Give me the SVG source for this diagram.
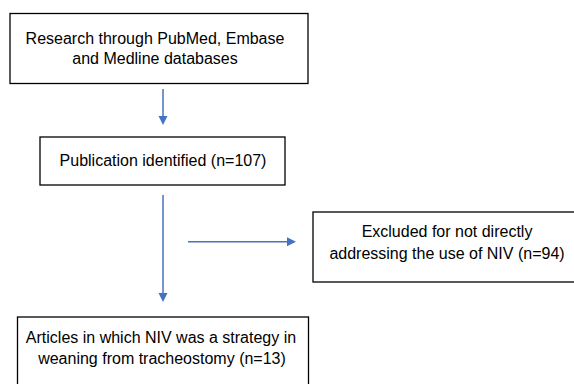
<svg xmlns="http://www.w3.org/2000/svg" width="574" height="384" viewBox="0 0 574 384">
<style>
.box{fill:#fff;stroke:#000;stroke-width:1.3}
.t{font-family:"Liberation Sans",Arial,Helvetica,sans-serif;font-size:16px;fill:#000;text-anchor:middle}
.c{stroke:#4472C4;stroke-width:1.5;fill:none}
</style>
<defs>
<marker id="ah" viewBox="0 0 10 10" refX="10" refY="5" markerWidth="6" markerHeight="6" markerUnits="userSpaceOnUse" orient="auto">
<path d="M0,0 L10,5 L0,10 z" fill="#4472C4"/>
</marker>
</defs>
<rect width="574" height="384" fill="#fff"/>
<g id="n1">
<rect class="box" x="10" y="13.5" width="298" height="70"/>
<text class="t" x="155" y="44">Research through PubMed, Embase</text>
<text class="t" x="155" y="63.5">and Medline databases</text>
</g>
<g id="n2">
<rect class="box" x="40" y="137" width="245" height="48"/>
<text class="t" x="163" y="166">Publication identified (n=107)</text>
</g>
<g id="n3">
<rect class="box" x="313" y="212" width="268" height="70"/>
<text class="t" x="447" y="237">Excluded for not directly</text>
<text class="t" x="447" y="258.5">addressing the use of NIV (n=94)</text>
</g>
<g id="n4">
<rect class="box" x="17.5" y="317" width="291" height="80"/>
<text class="t" x="161" y="343">Articles in which NIV was a strategy in</text>
<text class="t" x="162" y="364">weaning from tracheostomy (n=13)</text>
</g>
<g id="connectors">
<path class="c" d="M163,89 L163,116"/>
<path d="M158.5,116 L167.5,116 L163,125 z" fill="#4472C4"/>
<path class="c" d="M163,195 L163,293"/>
<path d="M158.5,293 L167.5,293 L163,302 z" fill="#4472C4"/>
<path class="c" d="M188,241.7 L287,241.7"/>
<path d="M287,237.2 L296,241.7 L287,246.2 z" fill="#4472C4"/>
</g>
</svg>
